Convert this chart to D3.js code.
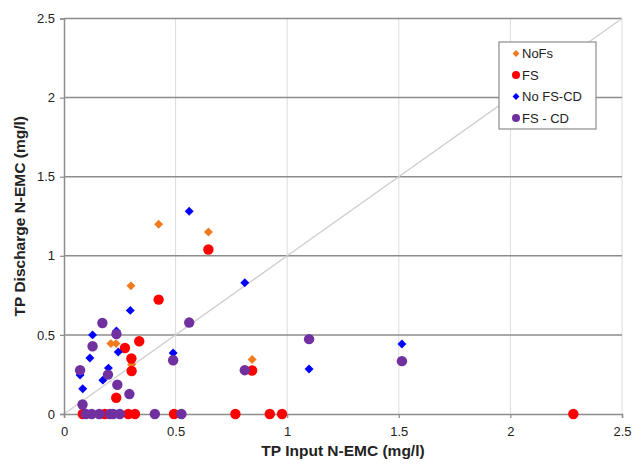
<!DOCTYPE html>
<html>
<head>
<meta charset="utf-8">
<script src="https://cdn.jsdelivr.net/npm/d3@7"></script>
<style>
  body { margin: 0; background: #fff; }
  text { font-family: "Liberation Sans", Arial, sans-serif; fill: #222; }
</style>
</head>
<body>
<div id="my_dataviz"></div>
<script>
// series data [input, discharge]
var noFs = [[0.424,1.2],[0.647,1.15],[0.3,0.81],[0.21,0.445],[0.233,0.445],[0.303,0.313],[0.843,0.345]];
var fs = [[0.647,1.04],[0.424,0.723],[0.337,0.46],[0.273,0.417],[0.302,0.351],[0.303,0.272],[0.843,0.275],[0.234,0.103],
          [0.084,0],[0.183,0],[0.288,0],[0.318,0],[0.493,0],[0.768,0],[0.922,0],[0.977,0],[2.282,0]];
var noFsCd = [[0.561,1.282],[0.81,0.83],[0.297,0.655],[0.128,0.5],[0.235,0.525],[0.243,0.392],[0.489,0.385],[0.116,0.354],
              [0.199,0.29],[0.072,0.246],[0.174,0.214],[0.084,0.16],[1.098,0.284],[1.514,0.443]];
var fsCd = [[0.561,0.578],[1.098,0.473],[1.514,0.334],[0.81,0.277],[0.172,0.575],[0.235,0.505],[0.128,0.428],[0.489,0.34],
            [0.197,0.249],[0.072,0.277],[0.239,0.185],[0.293,0.126],[0.083,0.06],
            [0.098,0],[0.124,0],[0.158,0],[0.206,0],[0.22,0],[0.25,0],[0.407,0],[0.526,0]];
var ticks = [0, 0.5, 1, 1.5, 2, 2.5];
var tickLabels = ["0", "0.5", "1", "1.5", "2", "2.5"];

var series = [
    { name: "NoFs", data: noFs, color: "#F07B1E", shape: "diamond" },
    { name: "FS", data: fs, color: "#FF0000", shape: "circle" },
    { name: "No FS-CD", data: noFsCd, color: "#0000FF", shape: "diamond" },
    { name: "FS - CD", data: fsCd, color: "#7030A0", shape: "circle" }
];

var width = 633, height = 465;
var margin = { top: 18.5, right: 11, bottom: 51, left: 64 };

var svg = d3.select("#my_dataviz")
    .append("svg")
        .attr("width", width)
        .attr("height", height);

var x = d3.scaleLinear().domain([0, 2.5]).range([margin.left, width - margin.right]);
var y = d3.scaleLinear().domain([0, 2.5]).range([height - margin.bottom, margin.top]);

// vertical grid (light)
svg.append("g")
    .selectAll("line")
    .data(ticks.slice(1))
    .enter().append("line")
        .attr("x1", d => x(d)).attr("x2", d => x(d))
        .attr("y1", y(0)).attr("y2", y(2.5))
        .attr("stroke", "#dcdcdc").attr("stroke-width", 1);

// horizontal grid (darker)
svg.append("g")
    .selectAll("line")
    .data(ticks.slice(1))
    .enter().append("line")
        .attr("x1", x(0)).attr("x2", x(2.5))
        .attr("y1", d => y(d)).attr("y2", d => y(d))
        .attr("stroke", "#8c8c8c").attr("stroke-width", 1.5);

// 1:1 line
svg.append("line")
    .attr("x1", x(0)).attr("y1", y(0))
    .attr("x2", x(2.5)).attr("y2", y(2.5))
    .attr("stroke", "#cfcfcf").attr("stroke-width", 1.3);

// axes
var xAxis = svg.append("g")
    .attr("transform", "translate(0," + y(0) + ")")
    .call(d3.axisBottom(x).tickValues(ticks).tickFormat((d, i) => tickLabels[i]).tickSizeOuter(0).tickSize(4).tickPadding(9));
var yAxis = svg.append("g")
    .attr("transform", "translate(" + x(0) + ",0)")
    .call(d3.axisLeft(y).tickValues(ticks).tickFormat((d, i) => tickLabels[i]).tickSizeOuter(0).tickSize(4).tickPadding(5));

[xAxis, yAxis].forEach(function(a) {
    a.select(".domain").attr("stroke", "#8c8c8c").attr("stroke-width", 1.5);
    a.selectAll(".tick line").attr("stroke", "#8c8c8c").attr("stroke-width", 1.2);
    a.selectAll(".tick text")
        .style("font-family", "'Liberation Sans', Arial, sans-serif")
        .style("font-size", "13px")
        .attr("fill", "#222");
});

// axis titles
svg.append("text")
    .attr("x", (x(0) + x(2.5)) / 2)
    .attr("y", 456)
    .attr("text-anchor", "middle")
    .attr("font-size", "15.5px")
    .attr("font-weight", "bold")
    .text("TP Input N-EMC (mg/l)");

svg.append("text")
    .attr("transform", "rotate(-90)")
    .attr("x", -(y(0) + y(2.5)) / 2)
    .attr("y", 25)
    .attr("text-anchor", "middle")
    .attr("font-size", "15.5px")
    .attr("font-weight", "bold")
    .text("TP Discharge N-EMC (mg/l)");

// square rotated 45 degrees gives an even diamond
var diamond = d3.symbol().type(d3.symbolSquare);

// points
series.forEach(function(s) {
    var g = svg.append("g");
    if (s.shape === "circle") {
        g.selectAll("circle")
            .data(s.data)
            .enter().append("circle")
                .attr("cx", d => x(d[0]))
                .attr("cy", d => y(d[1]))
                .attr("r", 5.2)
                .attr("fill", s.color);
    } else {
        g.selectAll("path")
            .data(s.data)
            .enter().append("path")
                .attr("d", diamond.size(40))
                .attr("transform", d => "translate(" + x(d[0]) + "," + y(d[1]) + ") rotate(45)")
                .attr("fill", s.color);
    }
});

// legend
var legend = svg.append("g").attr("transform", "translate(499,42)");
legend.append("rect")
    .attr("width", 97).attr("height", 87)
    .attr("fill", "#fff")
    .attr("stroke", "#8c8c8c").attr("stroke-width", 1.2);

var items = legend.selectAll(".item")
    .data(series)
    .enter().append("g")
        .attr("class", "item")
        .attr("transform", (d, i) => "translate(0," + (11.5 + i * 21.5) + ")");

items.each(function(d) {
    var it = d3.select(this);
    if (d.shape === "circle") {
        it.append("circle").attr("cx", 17).attr("cy", 0).attr("r", 4).attr("fill", d.color);
    } else {
        it.append("path").attr("d", diamond.size(24)).attr("transform", "translate(17,0) rotate(45)").attr("fill", d.color);
    }
    it.append("text")
        .attr("x", 23).attr("y", 4.5)
        .attr("font-size", "13px")
        .text(d.name);
});
</script>
</body>
</html>
